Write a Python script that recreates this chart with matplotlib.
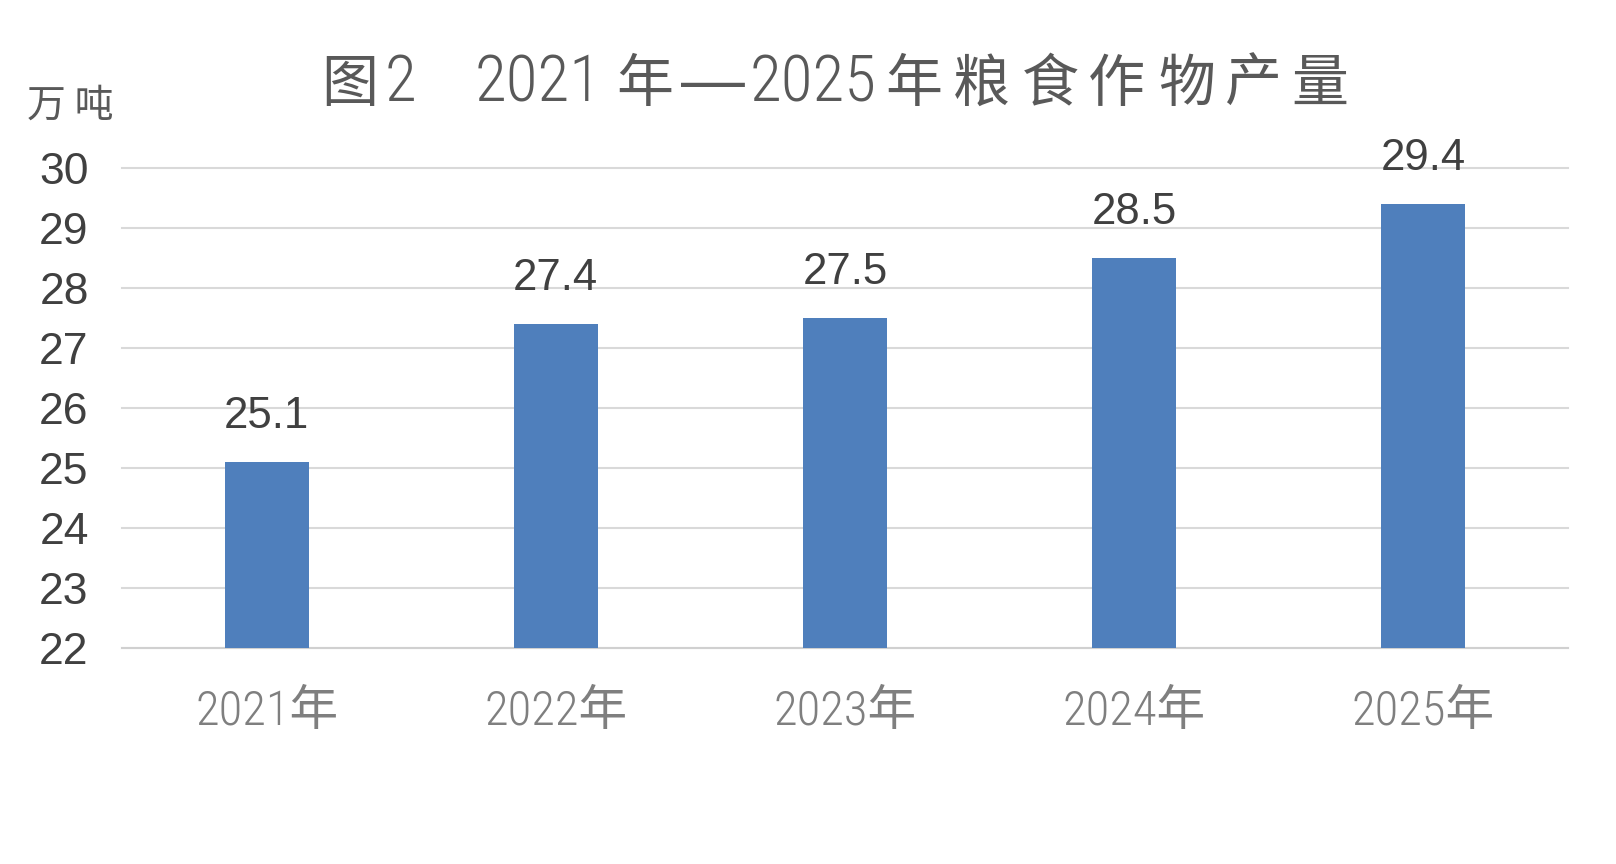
import matplotlib
matplotlib.use('Agg')
import matplotlib.pyplot as plt
from matplotlib import font_manager as fm

# ---- data ----
years = ['2021年', '2022年', '2023年', '2024年', '2025年']
output = [25.1, 27.4, 27.5, 28.5, 29.4]
yticks = [22, 23, 24, 25, 26, 27, 28, 29, 30]
unit_label = '万 吨'
title_parts = ['图', '2', '2021', '年', '—', '2025', '年', '粮', '食', '作', '物', '产', '量']

names = {f.name for f in fm.fontManager.ttflist}
COND = 'Roboto Condensed' if 'Roboto Condensed' in names else 'Liberation Sans'
SANS = 'Liberation Sans'
CJK = 'Noto Sans CJK SC'

W, H = 1616, 864
fig = plt.figure(figsize=(W / 100, H / 100), dpi=100)
fig.patch.set_facecolor('white')

left, right, top, bottom = 122, 1568, 168, 648
ax = fig.add_axes([left / W, 1 - bottom / H, (right - left) / W, (bottom - top) / H])

xpos = list(range(len(years)))
bars = ax.bar(xpos, output, width=0.29, color='#4F7FBC', zorder=3)
ax.set_ylim(22, 30)
ax.set_xlim(-0.5, len(years) - 0.5)
ax.set_yticks(yticks)
ax.yaxis.grid(True, color='#D9D9D9', linewidth=1.5, zorder=0)
for gl in ax.get_ygridlines():
    gl.set_clip_on(False)
ax.set_axisbelow(True)
for s in ['top', 'right', 'left']:
    ax.spines[s].set_visible(False)
ax.spines['bottom'].set_color('#D0D0D0')
ax.spines['bottom'].set_linewidth(1.5)

ax.tick_params(axis='y', length=0, pad=24, labelsize=32, labelcolor='#404040')
for lab in ax.get_yticklabels():
    lab.set_fontfamily(SANS)

ax.set_xticks(xpos, years)
ax.tick_params(axis='x', length=0, pad=29, labelsize=35, labelcolor='#7F7F7F')
for lab in ax.get_xticklabels():
    lab.set_fontfamily([COND, CJK])
    lab.set_fontweight('light')

ax.bar_label(bars, labels=[f'{v:.1f}' for v in output], padding=18,
             fontsize=31.5, color='#404040', family=SANS)

# ---- title, laid out piece by piece ----
centers = [349.5, 400, 538.5, 644.5, 712.5, 813, 913.5, 981.5, 1050, 1116.5, 1186.5, 1253.5, 1320]
baseline = 101
for txt, cx in zip(title_parts, centers):
    if txt.isdigit():
        fam, size, wt = COND, 47, 'light'
    elif txt == '—':
        fam, size, wt = SANS, 46, 'normal'
    else:
        fam, size, wt = CJK, 41, 'light'
    fig.text(cx / W, 1 - baseline / H, txt, ha='center', va='baseline',
             family=fam, fontsize=size, fontweight=wt, color='#595959')

fig.text(70 / W, 1 - 106 / H, unit_label, ha='center', va='center',
         family=CJK, fontsize=28, fontweight='light', color='#595959')

fig.savefig('out.png', dpi=100)
